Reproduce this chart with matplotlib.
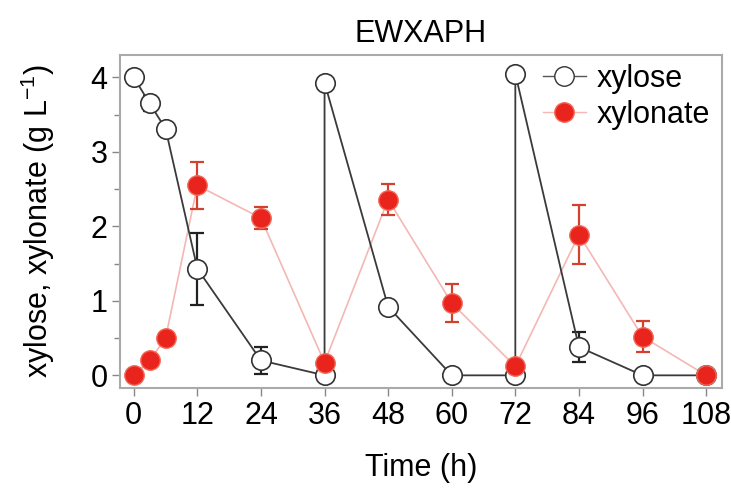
import numpy as np
import matplotlib
matplotlib.use('Agg')
from matplotlib import pyplot as plt

# xylose (feeding at 36 h and 72 h gives the vertical jumps)
xyl_t = [0, 3, 6, 12, 24, 36, 36, 48, 60, 72, 72, 84, 96, 108]
xyl_v = [4.0, 3.65, 3.31, 1.43, 0.2, 0.0, 3.93, 0.92, 0.0, 0.0, 4.05, 0.38, 0.0, 0.0]
xyl_e = [0.0, 0.1, 0.0, 0.48, 0.18, 0.0, 0.0, 0.0, 0.0, 0.0, 0.0, 0.2, 0.0, 0.0]

# xylonate
xna_t = [0, 3, 6, 12, 24, 36, 48, 60, 72, 84, 96, 108]
xna_v = [0.0, 0.2, 0.5, 2.55, 2.11, 0.17, 2.36, 0.97, 0.12, 1.89, 0.52, 0.0]
xna_e = [0.0, 0.0, 0.0, 0.32, 0.15, 0.0, 0.21, 0.25, 0.0, 0.4, 0.21, 0.0]

xticks = [0, 12, 24, 36, 48, 60, 72, 84, 96, 108]
yticks = [0, 1, 2, 3, 4]

plt.rcParams['font.family'] = ['Liberation Sans', 'DejaVu Sans']
FS = 22

fig = plt.figure(figsize=(7.31, 4.91), dpi=100)
ax = fig.add_axes([120/731., 1-388/491., 602/731., 333/491.])

# error bars first, then lines+markers on top
ax.errorbar(xyl_t, xyl_v, yerr=xyl_e, fmt='none', ecolor='#222222',
            elinewidth=1.6, capsize=5, capthick=1.6, zorder=2)
ax.errorbar(xna_t, xna_v, yerr=xna_e, fmt='none', ecolor='#d2402e',
            elinewidth=1.6, capsize=5, capthick=1.6, zorder=2)

ax.plot(xna_t, xna_v, '-', color='#f3b8b4', lw=1.2, zorder=1)
ax.plot(xna_t, xna_v, 'o', color='#e8241c', mec='#f06a5a', mew=1.0,
        ms=14, zorder=4)
ax.plot(xyl_t, xyl_v, '-', color='#3a3a3a', lw=1.3, zorder=3)
ax.plot(xyl_t, xyl_v, 'o', mfc='white', mec='#333333', mew=1.2,
        ms=14, zorder=3)

# legend handles
h1, = ax.plot([], [], '-o', color='#555555', lw=1.0, mfc='white',
              mec='#333333', ms=14)
h2, = ax.plot([], [], '-o', color='#f3b8b4', lw=1.0, mfc='#e8241c',
              mec='#f06a5a', ms=14)
ax.legend([h1, h2], ['xylose', 'xylonate'], loc='upper right', frameon=False,
          fontsize=FS, handlelength=1.4, handletextpad=0.35, labelspacing=0.2,
          borderaxespad=0.0, bbox_to_anchor=(1.0, 1.01))

ax.set_xlim(-2.6, 111)
ax.set_ylim(-0.17, 4.3)
ax.set_xticks(xticks)
ax.set_yticks(yticks)
ax.set_yticks(np.arange(0, 4.01, 0.5), minor=True)
ax.tick_params(axis='both', which='major', labelsize=FS, color='#888888',
               length=6, width=1.0, pad=3)
ax.tick_params(axis='y', which='minor', color='#888888', length=4, width=1.0)
for s in ax.spines.values():
    s.set_color('#aaaaaa')
    s.set_linewidth(1.5)

ax.set_title('EWXAPH', fontsize=FS, pad=9)
ax.set_xlabel('Time (h)', fontsize=FS, labelpad=16)
ax.set_ylabel('xylose, xylonate (g L$^{\\mathregular{-1}}$)', fontsize=FS, labelpad=24)

fig.savefig('out.png', dpi=100)
